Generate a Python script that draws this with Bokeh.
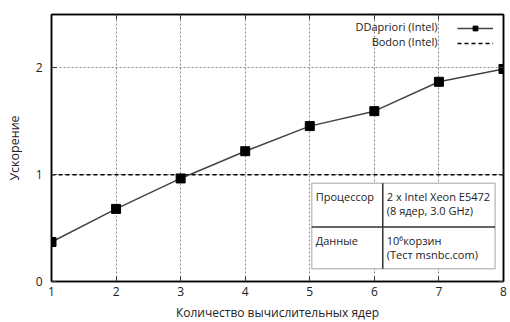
from bokeh.plotting import figure
from bokeh.models import (Range1d, LinearAxis, FixedTicker, Legend, LegendItem,
                          Label, BoxAnnotation, Grid)
from bokeh.embed import file_html
from bokeh.resources import INLINE

# ---- data ----
cores = [1, 2, 3, 4, 5, 6, 7, 8]
ddapriori = [0.37, 0.68, 0.965, 1.22, 1.455, 1.595, 1.87, 1.99]
bodon = [1, 1, 1, 1, 1, 1, 1, 1]
x_ticks = [1, 2, 3, 4, 5, 6, 7, 8]
y_ticks = [0, 1, 2]
series_names = ["DDapriori (Intel)", "Bodon (Intel)"]
x_title = "Количество вычислительных ядер"
y_title = "Ускорение"
table_rows = [
    ["Процессор", "2 x Intel Xeon E5472", "(8 ядер, 3.0 GHz)"],
    ["Данные", "10⁶корзин", "(Тест msnbc.com)"],
]

FONT = "Open Sans"
TXT = "#222222"

p = figure(frame_width=452, frame_height=267, output_backend="svg",
           toolbar_location=None,
           x_range=Range1d(1, 8), y_range=Range1d(0, 2.5),
           min_border_left=51, min_border_right=7, min_border_top=14,
           min_border_bottom=30, x_axis_location=None, y_axis_location=None)
# drop any default grids
p.center = [r for r in p.center if not isinstance(r, Grid)]
p.background_fill_color = "white"
p.border_fill_color = "white"
p.outline_line_color = "black"
p.outline_line_width = 1.5

def style_axis(ax, ticks, show_labels):
    ax.ticker = FixedTicker(ticks=ticks)
    ax.major_tick_in = 5
    ax.major_tick_out = 0
    ax.minor_tick_line_color = None
    ax.axis_line_color = "black"
    ax.axis_line_width = 1.5
    ax.major_tick_line_color = "#333333"
    ax.major_label_text_font = FONT
    ax.major_label_text_font_size = "12px"
    ax.major_label_text_color = TXT
    ax.major_label_standoff = 5
    if not show_labels:
        ax.major_label_text_alpha = 0
        ax.major_label_text_font_size = "1px"

xb = LinearAxis(axis_label=x_title)
style_axis(xb, x_ticks, True)
xb.axis_label_text_font = FONT
xb.axis_label_text_font_size = "12px"
xb.axis_label_text_font_style = "normal"
xb.axis_label_text_color = TXT
xb.axis_label_standoff = 5
p.add_layout(xb, "below")

yl = LinearAxis(axis_label=y_title)
style_axis(yl, y_ticks, True)
yl.major_label_standoff = 9
yl.axis_label_text_font = FONT
yl.axis_label_text_font_size = "12.5px"
yl.axis_label_text_font_style = "normal"
yl.axis_label_text_color = TXT
yl.axis_label_standoff = 10
p.add_layout(yl, "left")

xt = LinearAxis()
style_axis(xt, x_ticks, False)
p.add_layout(xt, "above")
yr = LinearAxis()
style_axis(yr, y_ticks, False)
p.add_layout(yr, "right")

gx = Grid(dimension=0, ticker=FixedTicker(ticks=x_ticks[1:-1]))
gy = Grid(dimension=1, ticker=FixedTicker(ticks=y_ticks[1:]))
for g in (gx, gy):
    g.grid_line_color = "#8a8a8a"
    g.grid_line_dash = "2 2"
    g.grid_line_width = 1
    p.add_layout(g)

# table (annotation in data space)
tx0, tx1, txm = 5.03, 7.87, 6.13
ty0, ty1, tym = 0.12, 0.92, 0.51
p.add_layout(BoxAnnotation(left=tx0, right=tx1, bottom=ty0, top=ty1,
                           fill_color="white", fill_alpha=1,
                           line_color="#333333", line_width=1.5, level="annotation"))
p.segment(x0=[tx0, txm], y0=[tym, ty0], x1=[tx1, txm], y1=[tym, ty1],
          line_color="#333333", line_width=1.5, level="overlay")
row_tops = [ty1, tym]
for (k, a, b), top in zip(table_rows, row_tops):
    for txt, xx, xo, yo in ((k, tx0, 4, -6), (a, txm, 4, -6), (b, txm, 4, -20)):
        p.add_layout(Label(x=xx, y=top, text=txt, x_offset=xo, y_offset=yo,
                           text_font=FONT, text_font_size="11px", text_color=TXT,
                           text_baseline="top", level="overlay"))

bl = p.line(cores, bodon, line_color="black", line_width=1.5, line_dash="4 3")
dl = p.line(cores, ddapriori, line_color="#444444", line_width=1.5)
ds = p.scatter(cores, ddapriori, marker="square", size=9,
               fill_color="black", line_color="black")

# legend: gnuplot style, text right-aligned left of the samples
legend = Legend(items=[LegendItem(label=" ", renderers=[dl, ds]),
                       LegendItem(label=" ", renderers=[bl])],
                location="top_right", border_line_color=None,
                background_fill_alpha=0, label_text_font=FONT,
                label_text_font_size="9px", label_height=12, glyph_height=12,
                label_width=0, glyph_width=36, spacing=3, padding=2, margin=8,
                label_standoff=2)
p.add_layout(legend)
for name, yo in zip(series_names, (-12, -27)):
    p.add_layout(Label(x=8, y=2.5, text=name, x_offset=-66, y_offset=yo,
                       text_align="right", text_baseline="middle",
                       text_font=FONT, text_font_size="11px", text_color=TXT))

open("out.html", "w").write(file_html(p, INLINE))
